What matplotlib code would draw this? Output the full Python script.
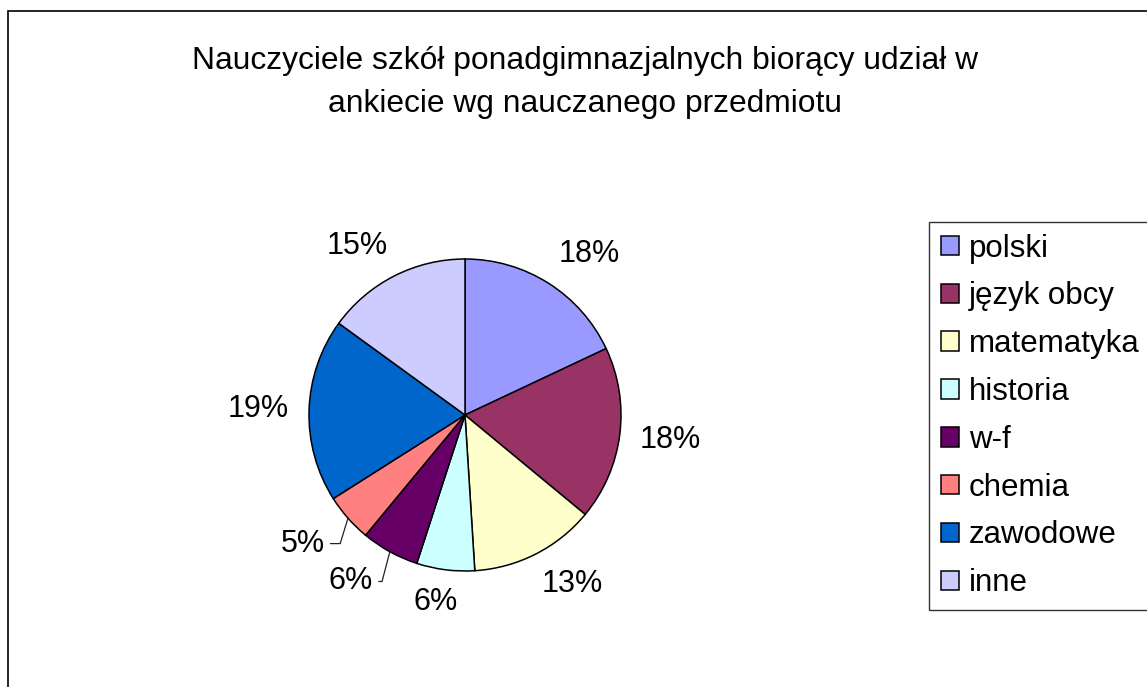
import numpy as np
from matplotlib import pyplot as plt
from matplotlib.patches import Rectangle

# data
subjects = ['polski', 'język obcy', 'matematyka', 'historia', 'w-f',
            'chemia', 'zawodowe', 'inne']
shares = [18, 18, 13, 6, 6, 5, 19, 15]
colors = ['#9999FF', '#993366', '#FFFFCC', '#CCFFFF', '#660066',
          '#FF8080', '#0066CC', '#CCCCFF']
title = 'Nauczyciele szkół ponadgimnazjalnych biorący udział w\nankiecie wg nauczanego przedmiotu'

W, H = 1147, 687
plt.rcParams['font.family'] = ['Liberation Sans', 'DejaVu Sans']

fig = plt.figure(figsize=(W / 100, H / 100), dpi=100)

# outer chart frame (cut off at right and bottom)
fig.patches.append(Rectangle((8 / W, -0.1), 1.2, 1 - 11 / H + 0.1,
                             transform=fig.transFigure, fill=False,
                             edgecolor='black', linewidth=1.2))

fig.text(585 / W, 1 - 82.5 / H, title, ha='center', va='center',
         fontsize=22.9, linespacing=1.59)

cx, cy, r = 465, 415, 156
ax = fig.add_axes([(cx - r) / W, (H - cy - r) / H, 2 * r / W, 2 * r / H])
wedges, texts, autotexts = ax.pie(
    shares, colors=colors, startangle=90, counterclock=False,
    autopct='%1.0f%%', pctdistance=1.3,
    wedgeprops=dict(edgecolor='black', linewidth=1.1),
    textprops=dict(fontsize=22))
ax.set_xlim(-1, 1)
ax.set_ylim(-1, 1)

# excel-like label placement: box pushed outward from the rim
for w, t in zip(wedges, autotexts):
    ang = np.deg2rad((w.theta1 + w.theta2) / 2)
    c, s = np.cos(ang), np.sin(ang)
    t.set_position((1.13 * c + 0.194 * np.clip(2 * c, -1, 1),
                    1.13 * s + 0.077 * np.clip(2 * s, -1, 1)))
    t.set_ha('center')
    t.set_va('center')

# leader lines for the two crowded small slices
for i in (4, 5):
    w = wedges[i]
    ang = np.deg2rad((w.theta1 + w.theta2) / 2)
    x0, y0 = np.cos(ang), np.sin(ang)
    tx, ty = autotexts[i].get_position()
    ax.plot([x0, x0 - 0.05, tx + 0.18], [y0, ty, ty],
            color='#222222', linewidth=0.9, clip_on=False)

fig.legend(wedges, subjects, loc='upper left',
           bbox_to_anchor=(929 / W, 1 - 222 / H), fontsize=22.5,
           frameon=True, fancybox=False, edgecolor='black',
           handlelength=0.58, handleheight=0.58, handletextpad=0.32,
           labelspacing=0.57, borderpad=0.37, borderaxespad=0)

fig.savefig('out.png', dpi=100)
